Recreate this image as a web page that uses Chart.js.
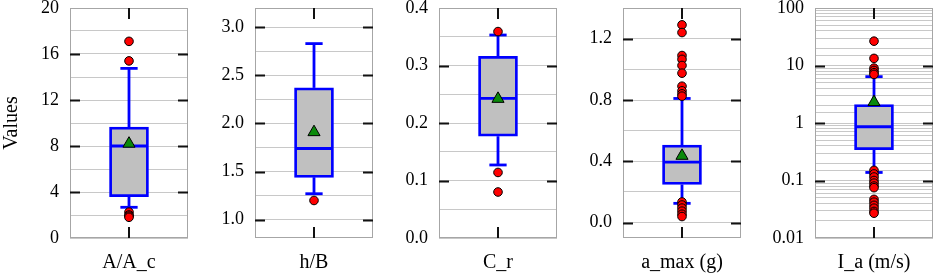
<!DOCTYPE html>
<html>
<head>
<meta charset="utf-8">
<script src="https://cdn.jsdelivr.net/npm/chart.js@4.4.1/dist/chart.umd.min.js"></script>
<style>
  html, body { margin: 0; padding: 0; background: #fff; }
  #wrap { position: relative; width: 941px; height: 277px; overflow: hidden; }
  #wrap canvas { position: absolute; top: 0; }
</style>
</head>
<body>
<div id="wrap"></div>
<script>
// values, one entry per panel
const categories = ['A/A_c', 'h/B', 'C_r', 'a_max (g)', 'I_a (m/s)'];
const q1Values = [3.6, 1.44, 0.177, 0.249, 0.344];
const q3Values = [9.65, 2.37, 0.316, 0.506, 2.1];
const medianValues = [8.0, 1.74, 0.243, 0.395, 0.86];
const meanValues = [8.2, 1.91, 0.242, 0.436, 2.31];
const whiskerLow = [2.67, 1.27, 0.127, 0.126, 0.138];
const whiskerHigh = [14.75, 2.83, 0.353, 0.81, 6.4];
const outlierValues = [
  [17.1, 15.4, 2.25, 2.0, 1.9, 1.8],
  [1.2],
  [0.359, 0.114, 0.08],
  [1.29, 1.24, 1.09, 1.065, 1.025, 0.975, 0.89, 0.86, 0.84, 0.825,
   0.135, 0.115, 0.095, 0.075, 0.055, 0.04],
  [26.5, 13.3, 9.0, 8.2, 7.5, 7.0,
   0.15, 0.13, 0.115, 0.1, 0.09, 0.08, 0.075,
   0.047, 0.042, 0.037, 0.033, 0.029, 0.027]
];

// axes
const axisMin = [0, 0.81, 0, -0.1, 0.01];
const axisMax = [20, 3.2, 0.4, 1.4, 100];
const majorTicks = [
  [0, 4, 8, 12, 16, 20],
  [1.0, 1.5, 2.0, 2.5, 3.0],
  [0, 0.1, 0.2, 0.3, 0.4],
  [0, 0.4, 0.8, 1.2],
  [0.01, 0.1, 1, 10, 100]
];
const tickLabels = [
  ['0', '4', '8', '12', '16', '20'],
  ['1.0', '1.5', '2.0', '2.5', '3.0'],
  ['0.0', '0.1', '0.2', '0.3', '0.4'],
  ['0.0', '0.4', '0.8', '1.2'],
  ['0.01', '0.1', '1', '10', '100']
];
const minorGrid = [
  [2, 6, 10, 14, 18],
  [1.25, 1.75, 2.25, 2.75],
  [0.05, 0.15, 0.25, 0.35],
  [0.2, 0.6, 1.0],
  null // log panel: library makes the 2..9 lines
];

// layout
const PANEL_LEFT = [70, 255, 439, 623, 815];
const PLOT_W = 123;
const PLOT_TOP = 8;
const PLOT_BOTTOM = 238;
const H = 277;
const BOX_W = 39;
const CAP_HALF = 9;
const TICK_LEN = 10;

const BLUE = '#0000ff';

Chart.defaults.font.family = "'Liberation Serif', 'Times New Roman', serif";
Chart.defaults.font.size = 18;
Chart.defaults.color = '#000';

// frame, inner black ticks on both sides and the centre tick marks
const frameTicks = {
  id: 'frameTicks',
  beforeDatasetsDraw(chart, args, opts) {
    const { ctx, chartArea: a, scales } = chart;
    const cx = scales.x.getPixelForValue(0);
    ctx.save();
    ctx.strokeStyle = '#a6a6a6';
    ctx.lineWidth = 1;
    ctx.strokeRect(a.left + 0.5, a.top + 0.5, a.width - 1, a.height - 1);

    ctx.strokeStyle = '#111';
    ctx.lineWidth = 2;
    ctx.beginPath();
    opts.majors.forEach(v => {
      const py = Math.round(scales.y.getPixelForValue(v)) + 0.5;
      if (py < a.top + 2 || py > a.bottom - 2) return;
      ctx.moveTo(a.left, py); ctx.lineTo(a.left + TICK_LEN, py);
      ctx.moveTo(a.right - TICK_LEN, py); ctx.lineTo(a.right, py);
    });
    ctx.moveTo(cx, a.top); ctx.lineTo(cx, a.top + TICK_LEN + 1);
    ctx.moveTo(cx, a.bottom); ctx.lineTo(cx, a.bottom - TICK_LEN - 1);
    ctx.stroke();
    ctx.restore();
  }
};

function segment(x1, y1, x2, y2, order) {
  return {
    type: 'line',
    xAxisID: 'x2',
    data: [{ x: x1, y: y1 }, { x: x2, y: y2 }],
    borderColor: BLUE,
    borderWidth: 2.8,
    pointRadius: 0,
    fill: false,
    order: order
  };
}

function labelFor(i, v) {
  const isLog = minorGrid[i] === null;
  const k = majorTicks[i].findIndex(m =>
    isLog ? Math.abs(Math.log10(m) - Math.log10(v)) < 1e-6 : Math.abs(m - v) < 1e-9);
  return k >= 0 ? tickLabels[i][k] : '';
}

function buildPanel(i) {
  const axisW = i === 0 ? 70 : 55;
  const canvas = document.createElement('canvas');
  canvas.width = axisW + PLOT_W + 3;
  canvas.height = H;
  canvas.style.left = (PANEL_LEFT[i] - axisW) + 'px';
  canvas.style.width = canvas.width + 'px';
  canvas.style.height = H + 'px';
  document.getElementById('wrap').appendChild(canvas);

  const isLog = minorGrid[i] === null;
  const half = PLOT_W / 2;

  const yScale = {
    type: isLog ? 'logarithmic' : 'linear',
    min: axisMin[i],
    max: axisMax[i],
    grid: { color: '#c8c8c8', lineWidth: 1, drawTicks: false },
    border: { display: false },
    ticks: {
      autoSkip: false,
      padding: 11,
      callback: v => labelFor(i, v)
    },
    title: {
      display: i === 0,
      text: 'Values',
      font: { size: 20 },
      padding: { top: 0, bottom: 0 }
    },
    afterFit(s) {
      s.width = axisW;
      s.paddingTop = 0;
      s.paddingBottom = 0;
    }
  };
  if (!isLog) {
    yScale.afterBuildTicks = s => {
      s.ticks = majorTicks[i].concat(minorGrid[i])
        .sort((a, b) => a - b)
        .map(v => ({ value: v }));
    };
  }

  new Chart(canvas, {
    type: 'bar',
    data: {
      labels: [categories[i]],
      datasets: [
        {
          type: 'scatter',
          xAxisID: 'x2',
          data: [{ x: 0, y: meanValues[i] }],
          pointStyle: 'triangle',
          pointRadius: 7,
          backgroundColor: '#0a8a0a',
          borderColor: '#000',
          borderWidth: 1,
          order: 0
        },
        {
          type: 'scatter',
          xAxisID: 'x2',
          data: outlierValues[i].map(v => ({ x: 0, y: v })),
          pointRadius: 4.3,
          backgroundColor: '#ff0000',
          borderColor: '#000',
          borderWidth: 1,
          order: 1
        },
        segment(-BOX_W / 2, medianValues[i], BOX_W / 2, medianValues[i], 2),
        segment(-CAP_HALF, whiskerHigh[i], CAP_HALF, whiskerHigh[i], 3),
        segment(-CAP_HALF, whiskerLow[i], CAP_HALF, whiskerLow[i], 3),
        segment(0, q3Values[i], 0, whiskerHigh[i], 4),
        segment(0, q1Values[i], 0, whiskerLow[i], 4),
        {
          type: 'bar',
          xAxisID: 'x',
          data: [[q1Values[i], q3Values[i]]],
          backgroundColor: '#c0c0c0',
          borderColor: BLUE,
          borderWidth: 2.8,
          borderSkipped: false,
          barThickness: BOX_W,
          grouped: false,
          order: 5
        }
      ]
    },
    options: {
      responsive: false,
      animation: false,
      events: [],
      layout: { padding: { top: PLOT_TOP, right: 3, bottom: 0, left: 0 } },
      plugins: {
        legend: { display: false },
        tooltip: { enabled: false },
        frameTicks: { majors: majorTicks[i] }
      },
      scales: {
        x: {
          type: 'category',
          offset: true,
          grid: { display: false, drawTicks: false },
          border: { display: false },
          ticks: { padding: 13, font: { size: 20 } },
          afterFit(s) {
            s.height = H - PLOT_BOTTOM;
            s.paddingLeft = 0;
            s.paddingRight = 0;
          }
        },
        x2: {
          type: 'linear',
          display: false,
          offset: false,
          grid: { offset: false },
          min: -half,
          max: half
        },
        y: yScale
      }
    },
    plugins: [frameTicks]
  });
}

categories.forEach((c, i) => buildPanel(i));
</script>
</body>
</html>
